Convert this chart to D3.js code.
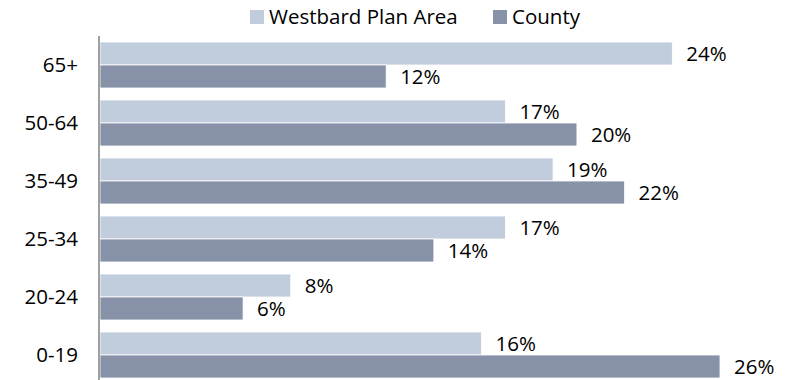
<!DOCTYPE html>
<html>
<head>
<meta charset="utf-8">
<script src="https://cdn.jsdelivr.net/npm/d3@7"></script>
<style>
  html, body { margin: 0; padding: 0; background: #fff; }
  svg { display: block; font-family: "Open Sans", "Noto Sans", sans-serif; }
</style>
</head>
<body>
<svg id="chart" width="794" height="380"></svg>
<script>
// Age groups, top to bottom
const categories = ["65+", "50-64", "35-49", "25-34", "20-24", "0-19"];
const seriesNames = ["Westbard Plan Area", "County"];
const westbard = [0.24, 0.17, 0.19, 0.17, 0.08, 0.16];
const county   = [0.12, 0.20, 0.22, 0.14, 0.06, 0.26];
const colors = ["#c1cddc", "#8792a9"];

const FONT = 20.5;
const svg = d3.select("#chart");
const margin = { left: 100, top: 36 };

const y = d3.scaleBand()
  .domain(categories)
  .range([margin.top, margin.top + 58 * categories.length])
  .paddingInner(12 / 58)
  .paddingOuter(6 / 58);

const inner = d3.scaleBand()
  .domain(seriesNames)
  .range([0, y.bandwidth()]);

const x = d3.scaleLinear().domain([0, 0.26]).range([margin.left, 720]);

const fmt = d3.format(".0%");
const series = [westbard, county];

const groups = svg.selectAll("g.cat")
  .data(categories)
  .join("g")
  .attr("class", "cat")
  .attr("transform", d => `translate(0,${y(d)})`);

seriesNames.forEach((name, si) => {
  groups.append("rect")
    .attr("x", x(0))
    .attr("y", inner(name))
    .attr("width", (d, i) => x(series[si][i]) - x(0))
    .attr("height", inner.bandwidth())
    .attr("fill", colors[si])
    .attr("stroke", "#ffffff")
    .attr("stroke-width", 0.8);

  groups.append("text")
    .attr("x", (d, i) => x(series[si][i]) + 14)
    .attr("y", inner(name) + inner.bandwidth() / 2)
    .attr("dy", "0.35em")
    .attr("font-size", FONT)
    .attr("fill", "#000")
    .text((d, i) => fmt(series[si][i]));
});

// Category axis
const axis = d3.axisLeft(y).tickSize(0).tickPadding(21);
const ag = svg.append("g")
  .attr("transform", `translate(${margin.left - 1},0)`)
  .call(axis);
ag.select(".domain")
  .attr("d", `M0,${margin.top}V384`)
  .attr("stroke", "#a0a0a0")
  .attr("stroke-width", 2);
ag.selectAll("text")
  .attr("font-size", FONT)
  .attr("font-family", "Open Sans, Noto Sans, sans-serif")
  .attr("fill", "#000");

// Legend
const legendItems = [
  { name: seriesNames[0], color: colors[0], x: 250 },
  { name: seriesNames[1], color: colors[1], x: 493 }
];
const lg = svg.append("g").selectAll("g")
  .data(legendItems)
  .join("g")
  .attr("transform", d => `translate(${d.x},10)`);
lg.append("rect")
  .attr("width", 14).attr("height", 14)
  .attr("fill", d => d.color);
lg.append("text")
  .attr("x", 19).attr("y", 7).attr("dy", "0.35em")
  .attr("font-size", FONT)
  .text(d => d.name);
</script>
</body>
</html>
